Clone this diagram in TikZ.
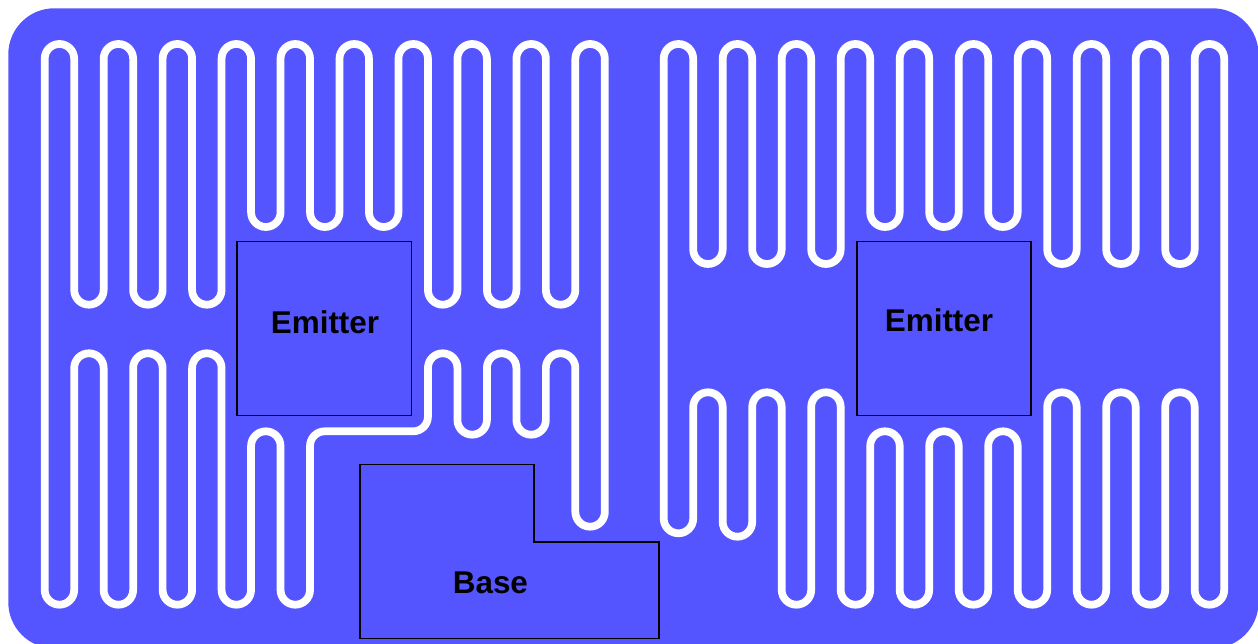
\documentclass[tikz,border=0pt]{standalone}
\usepackage{fontspec}
\setmainfont{Liberation Sans}
\definecolor{padblue}{HTML}{5555FF}
\tikzset{
    trench/.style={draw=white,line width=4.4pt,rounded corners=0.2948cm},
    padline/.style={draw=black,line width=0.6pt},
    padlabel/.style={anchor=base,inner sep=0pt,font=\fontsize{17.9}{20}\bfseries\selectfont}
}
\begin{document}
\begin{tikzpicture}[x=0.02cm,y=-0.02cm]
        \useasboundingbox (0,0) rectangle (1258,644);
        \fill[padblue,rounded corners=0.92cm] (8.3,8.3) rectangle (1258.5,648.3);
        % left meander
        \draw[trench] (44.7,200)
            \foreach \a/\b/\y in {0/1/604.7,1/2/353.3,2/3/604.7,3/4/353.3,4/5/604.7,5/6/353.3,6/7/604.7,7/8/431.3,8/9/604.7,9/13/431.3,13/14/353.3,14/15/434.7,15/16/353.3,16/17/434.7,17/18/353.3,18/19/526.7,19/18/44,18/17/304.7,17/16/44,16/15/304.7,15/14/44,14/13/304.7,13/12/44,12/11/227,11/10/44,10/9/227,9/8/44,8/7/227,7/6/44,6/5/304.7,5/4/44,4/3/304.7,3/2/44,2/1/304.7,1/0/44}
            { -- ({44.7+\a*29.48},\y) -- ({44.7+\b*29.48},\y) } -- cycle;
        % right meander
        \draw[trench] (663.7,200)
            \foreach \a/\b/\y in {0/1/533.3,1/2/392.3,2/3/536.7,3/4/392.3,4/5/604.7,5/6/392.3,6/7/604.7,7/8/431.3,8/9/604.7,9/10/431.3,10/11/604.7,11/12/431.3,12/13/604.7,13/14/392.3,14/15/604.7,15/16/392.3,16/17/604.7,17/18/392.3,18/19/604.7,19/18/44,18/17/264,17/16/44,16/15/264,15/14/44,14/13/264,13/12/44,12/11/227,11/10/44,10/9/227,9/8/44,8/7/227,7/6/44,6/5/264,5/4/44,4/3/264,3/2/44,2/1/264,1/0/44}
            { -- ({663.7+\a*29.5},\y) -- ({663.7+\b*29.5},\y) } -- cycle;
        % contact pads
        \draw[padline] (237,241.5) rectangle (411.5,415.5);
        \draw[padline] (857,241.5) rectangle (1031,415.5);
        \draw[padline] (360,464.5) -- (534,464.5) -- (534,542) -- (659,542) -- (659,638.5) -- (360,638.5) -- cycle;
        \node[padlabel] (emitterL) at (325,334) {Emitter};
        \node[padlabel] (emitterR) at (939,332) {Emitter};
        \node[padlabel] (base) at (490.4,593.3) {Base};
    \end{tikzpicture}
\end{document}
